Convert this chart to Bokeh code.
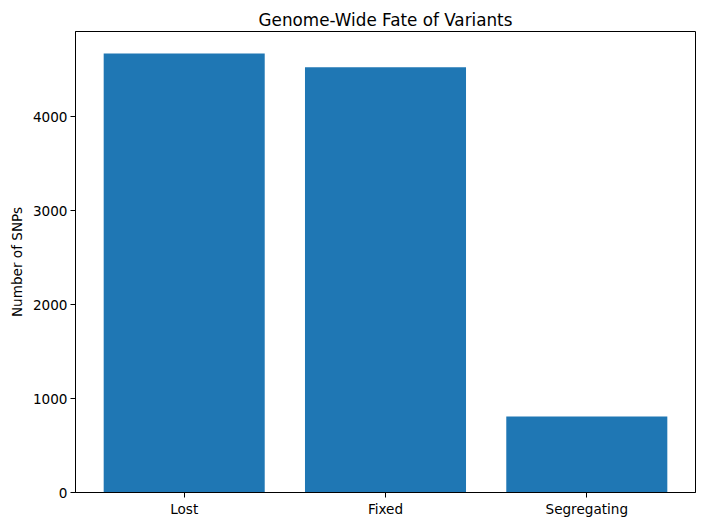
from bokeh.plotting import figure
from bokeh.models import FixedTicker, Range1d
from bokeh.embed import file_html
from bokeh.resources import INLINE

categories = ["Lost", "Fixed", "Segregating"]
counts = [4672, 4524, 808]

xs = list(range(len(categories)))

p = figure(width=696, height=518, output_backend="svg", toolbar_location=None,
           x_range=Range1d(-0.54, 2.54), y_range=Range1d(0, max(counts) * 1.05),
           title="Genome-Wide Fate of Variants")
p.frame_width = 620
p.frame_height = 461
p.min_border_left = 75
p.min_border_right = 1
p.min_border_bottom = 26
p.min_border_top = 31

p.vbar(x=xs, top=counts, width=0.8, color="#1f77b4", line_color=None)

p.title.align = "center"
p.title.text_font = "DejaVu Sans"
p.title.text_font_size = "16.8px"
p.title.text_font_style = "normal"
p.title.text_color = "black"
p.title.standoff = 4

p.xgrid.visible = False
p.ygrid.visible = False
p.outline_line_color = "black"
p.outline_line_width = 1

p.xaxis.ticker = FixedTicker(ticks=xs)
p.xaxis.major_label_overrides = {i: c for i, c in enumerate(categories)}
p.yaxis.ticker = FixedTicker(ticks=[0, 1000, 2000, 3000, 4000])
p.yaxis.axis_label = "Number of SNPs"

for ax in (p.xaxis, p.yaxis):
    ax.minor_tick_line_color = None
    ax.major_tick_out = 5
    ax.major_tick_in = 0
    ax.major_label_text_font = "DejaVu Sans"
    ax.major_label_text_font_size = "13.6px"
    ax.major_label_text_color = "black"
    ax.axis_line_color = "black"
    ax.major_tick_line_color = "black"
    ax.axis_label_text_font = "DejaVu Sans"
    ax.axis_label_text_font_size = "13.6px"
    ax.axis_label_text_font_style = "normal"
    ax.axis_label_text_color = "black"
p.yaxis.major_label_standoff = 3
p.xaxis.major_label_standoff = 3

open("out.html", "w").write(file_html(p, INLINE))
